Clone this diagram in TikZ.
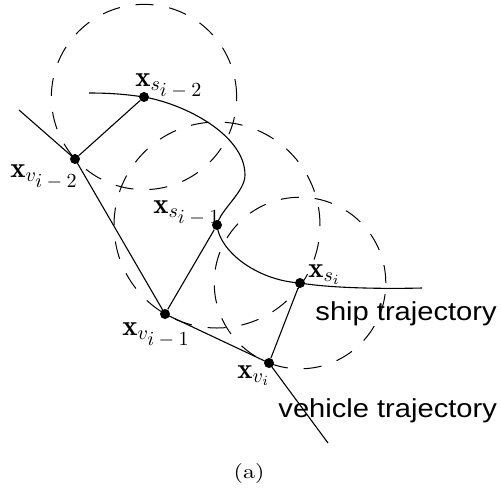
\documentclass[tikz,border=0pt]{standalone}
\usepackage{fontspec}
\newfontfamily\helv{Liberation Sans}
\usetikzlibrary{calc}
\newcommand\lblsub[1]{\mbox{\normalsize$#1$}}
\begin{document}
\begin{tikzpicture}[x=0.5pt,y=-0.5pt,
  traj/.style={line width=0.55pt},
  link/.style={line width=0.55pt},
  zone/.style={line width=0.5pt, dash pattern=on 9pt off 8pt},
  dot/.style={circle, fill, inner sep=0pt, minimum size=5pt},
  lbl/.style={inner sep=0pt, anchor=base west, font=\Large},
  capt/.style={inner sep=0pt, anchor=base west, font=\helv\fontsize{13}{15}\selectfont, xscale=1.12}]
\path[use as bounding box] (0,0) rectangle (501,488);
% points
\node[dot] (sA) at (144,97) {};
\node[dot] (sB) at (217,225) {};
\node[dot] (sC) at (300,283) {};
\node[dot] (vA) at (75,159) {};
\node[dot] (vB) at (165,314) {};
\node[dot] (vC) at (269,363) {};
\coordinate (shipstart) at (89,93);
\coordinate (bend) at (245,175);
\coordinate (shipend) at (422,288);
\coordinate (vstart) at (19,110);
\coordinate (vend) at (328,443);
% trajectories
\draw[traj] (shipstart) .. controls (115,93) and (130,95) .. (sA.center)
  .. controls (185,104) and (245,135) .. (bend)
  .. controls (245,192) and (220,210) .. (sB.center)
  .. controls (219,250) and (255,280) .. (sC.center)
  .. controls (330,288) and (380,289) .. (shipend);
\draw[traj] (vstart) -- (vA.center) -- (vB.center) -- (vC.center) -- (vend);
% links
\draw[link] (vA) -- (sA);
\draw[link] (vB) -- (sB);
\draw[link] (vC) -- (sC);
% zones
\draw[zone] let \p1=($(vA)-(sA)$) in (sA) circle ({veclen(\x1,\y1)});
\draw[zone] let \p1=($(vB)-(sB)$) in (sB) circle ({veclen(\x1,\y1)});
\draw[zone] let \p1=($(vC)-(sC)$) in (sC) circle ({veclen(\x1,\y1)});
% labels
\node[lbl] (lsA) at (135,86) {$\mathbf{x}_{s_{\lblsub{i-2}}}$};
\node[lbl] (lvA) at (10,177) {$\mathbf{x}_{v_{\lblsub{i-2}}}$};
\node[lbl] (lsB) at (153,213) {$\mathbf{x}_{s_{\lblsub{i-1}}}$};
\node[lbl] (lvB) at (122,335) {$\mathbf{x}_{v_{\lblsub{i-1}}}$};
\node[lbl] (lsC) at (308,277) {$\mathbf{x}_{s_{i}}$};
\node[lbl] (lvC) at (237,378) {$\mathbf{x}_{v_{i}}$};
\node[capt] (ship) at (315,320) {ship trajectory};
\node[capt] (veh) at (278,417) {vehicle trajectory};
\node[inner sep=0pt, anchor=base, xscale=1.2] (sub) at (249,478) {(a)};
\end{tikzpicture}
\end{document}
